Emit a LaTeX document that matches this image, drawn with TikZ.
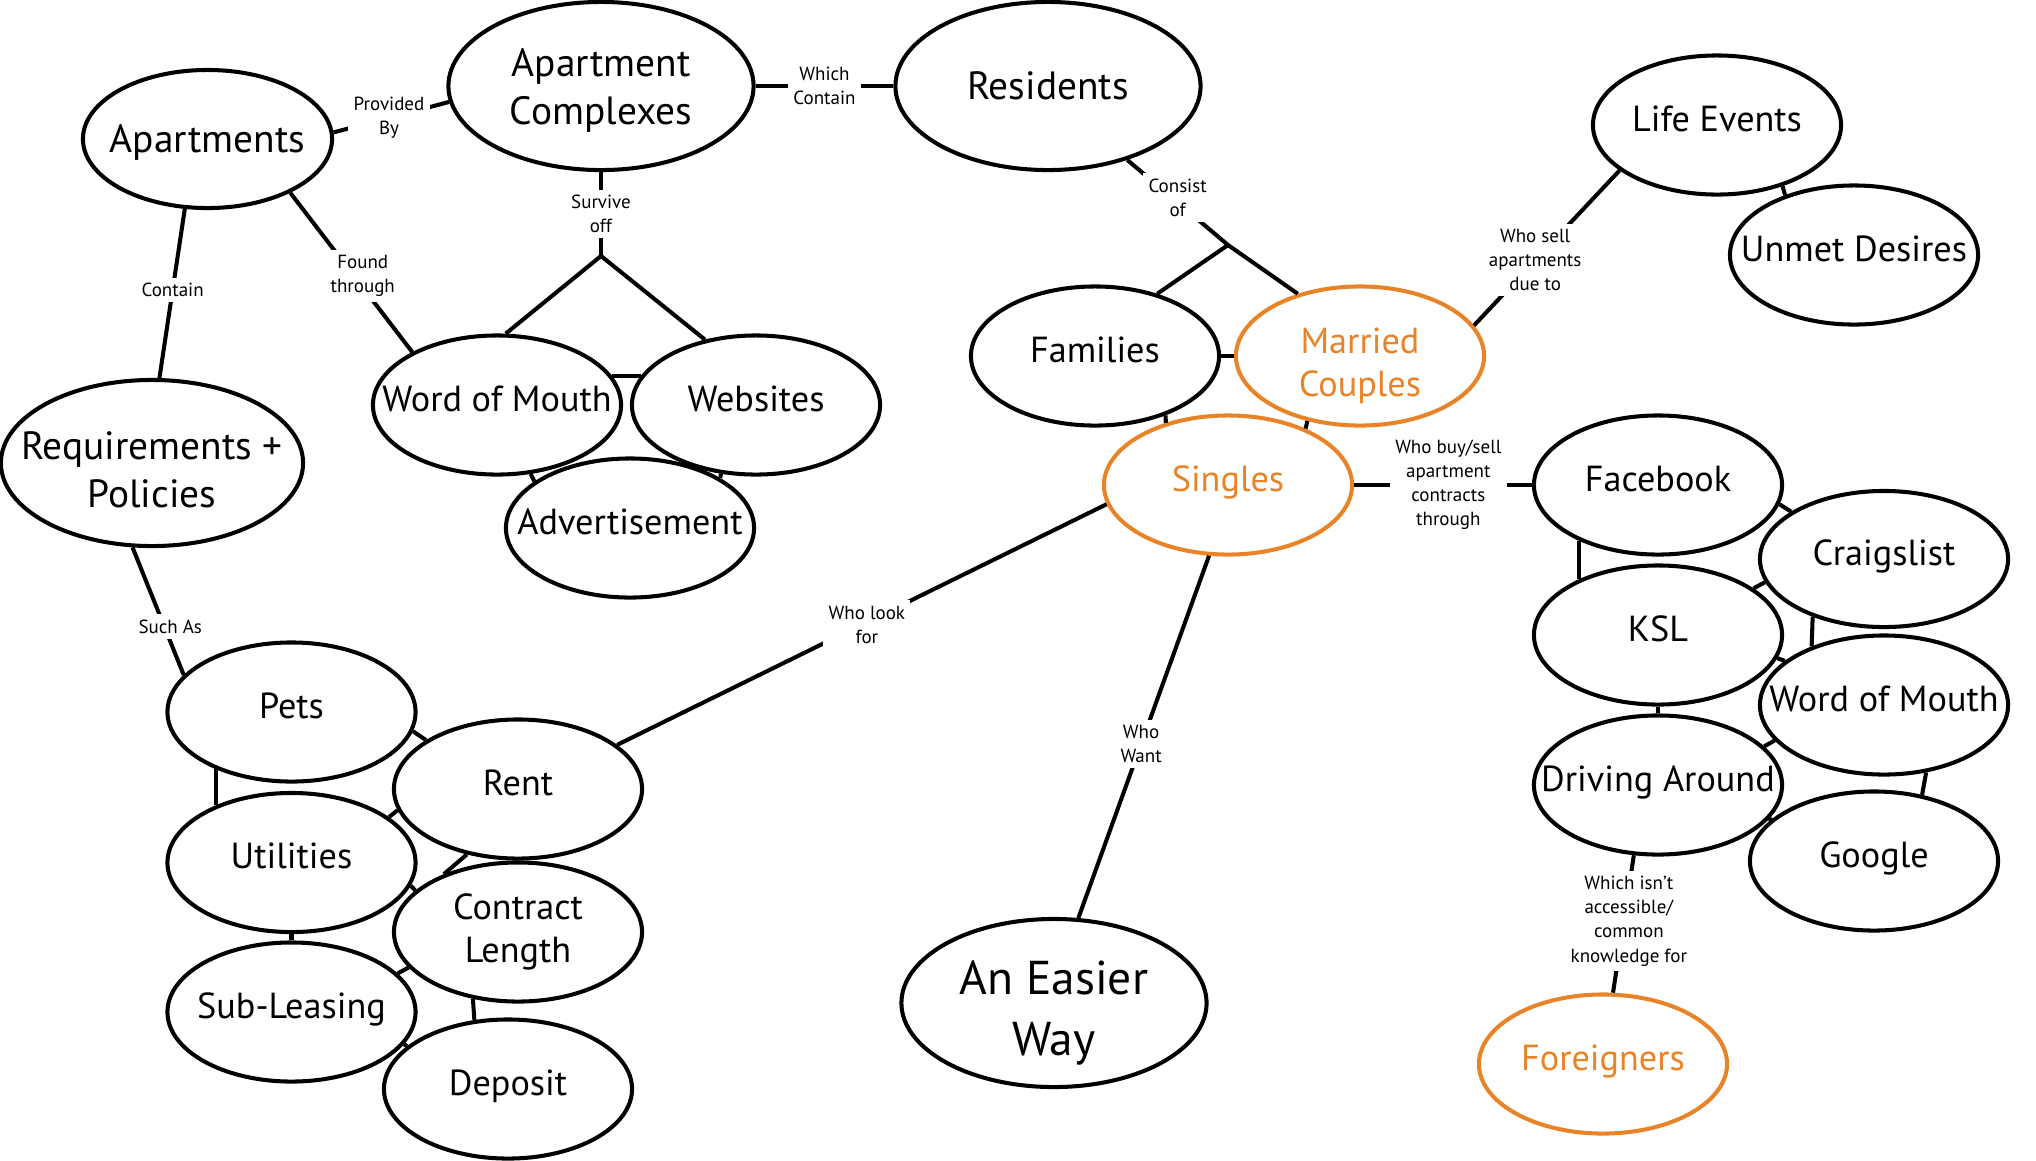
\documentclass[tikz,border=0pt]{standalone}
\usepackage{fontspec}
\setmainfont{PT Sans}
\usetikzlibrary{shapes.geometric}
\definecolor{orng}{RGB}{232,131,40}
\begin{document}
\begin{tikzpicture}[x=0.01cm, y=-0.01cm, line width=1.15pt, line join=round,
	base/.style={ellipse, draw, line width=1.15pt, minimum width=2.48cm, minimum height=1.39cm, inner sep=-10pt, align=center, font=\fontsize{10.3}{12.4}\selectfont},
	bub/.style={base, text height=7.5pt, text depth=4pt},
	bigbub/.style={base, minimum width=3.05cm, minimum height=1.68cm, font=\fontsize{11.2}{13.6}\selectfont},
	bigone/.style={bigbub, text height=8pt, text depth=0.6pt},
	hot/.style={draw=orng, text=orng},
	lbl/.style={fill=white, inner sep=1.5pt, align=center, font=\fontsize{5.4}{6.85}\selectfont}]
	\useasboundingbox (0,0) rectangle (2036,1160);
	\node[base, minimum width=2.49cm, minimum height=1.38cm, font=\fontsize{11.2}{13.6}\selectfont, text height=8pt, text depth=0.6pt] (apts) at (207.5,139) {Apartments};
	\node[bigbub] (cplx) at (601,86) {\rule{0pt}{10.4pt}Apartment\\Complexes};
	\node[bigone] (res) at (1048,86) {Residents};
	\node[bigbub, minimum width=3.02cm, minimum height=1.66cm] (req) at (152,463) {\rule{0pt}{11.8pt}Requirements +\\Policies};
	\node[bub] (wom) at (497,405) {Word of Mouth};
	\node[bub] (web) at (756,405) {Websites};
	\node[bub] (adv) at (630,528) {Advertisement};
	\node[bub] (life) at (1717,125) {Life Events};
	\node[bub] (unmet) at (1854,255) {Unmet Desires};
	\node[bub] (fam) at (1095,356) {Families};
	\node[base, hot] (married) at (1360,356) {\rule{0pt}{12.9pt}Married\\Couples};
	\node[bub, hot] (singles) at (1228,485) {Singles};
	\node[bub] (fb) at (1658,485) {Facebook};
	\node[bub, minimum height=1.36cm] (craig) at (1884,559) {Craigslist};
	\node[bub] (ksl) at (1658,635) {KSL};
	\node[bub] (wom2) at (1884,705) {Word of Mouth};
	\node[bub] (drive) at (1658,785) {Driving Around};
	\node[bub] (google) at (1874,861) {Google};
	\node[bub, hot] (foreign) at (1603,1064) {Foreigners};
	\node[bigbub, font=\fontsize{13.5}{17.4}\selectfont] (easier) at (1054,1003) {\rule{0pt}{15.3pt}An Easier\\Way};
	\node[bub] (pets) at (291.5,712) {Pets};
	\node[bub] (rent) at (518,789) {Rent};
	\node[bub] (util) at (291.5,862.5) {Utilities};
	\node[base] (contract) at (518,932) {Contract\\Length};
	\node[bub] (sub) at (291.5,1012) {Sub-Leasing};
	\node[bub] (deposit) at (508,1089) {Deposit};
	\coordinate (surv) at (601,256);
	\coordinate (cons) at (1228,245);
	\draw (apts.3) -- node[lbl, pos=.48] {Provided\\By} (cplx.-174);
	\draw (cplx) -- node[lbl] {Which\\Contain} (res);
	\draw (apts.-108) -- node[lbl, pos=.48] {Contain} (req.85);
	\draw (apts.-33) -- node[lbl, pos=.52, xshift=0.09cm] {Found\\through} (wom.148);
	\draw (cplx.south) -- node[lbl] {Survive\\off} (surv);
	\draw (wom.83) -- (surv) -- (web.128);
	\draw (wom.14) -- (web.166);
	\draw (wom.-64) -- (adv.154);
	\draw (web.-117) -- (adv.29);
	\draw (res.-43) -- node[lbl, yshift=0.05cm] {Consist\\of} (cons);
	\draw (fam.45) -- (cons) -- (married.135);
	\draw (fam) -- (married);
	\draw (fam.-40) -- (singles.135);
	\draw (married.-129) -- (singles.36);
	\draw (married.15) -- node[lbl, pos=.42] {Who sell\\apartments\\due to} (life.205);
	\draw (life.-43) -- (unmet.139);
	\draw (singles) -- node[lbl, pos=.53] {Who buy/sell\\apartment\\contracts\\through} (fb);
	\draw (fb.-9) -- (craig.153);
	\draw (fb.-145) -- (ksl.145);
	\draw (craig.191) -- (ksl.26);
	\draw (craig.-141) -- (wom2.141);
	\draw (ksl.-11) -- (wom2.156);
	\draw (ksl) -- (drive);
	\draw (wom2.198) -- (drive.20);
	\draw (wom2.-58) -- (google.54);
	\draw (drive.-16) -- (google.159);
	\draw (drive.-109) -- node[lbl, pos=.48, xshift=0.05cm] {Which isn't\\accessible/\\common\\knowledge for} (foreign.82);
	\draw (singles.-171) -- node[lbl, xshift=0.05cm] {Who look\\for} (rent.24);
	\draw (singles.-105) -- node[lbl, pos=.52] {Who\\Want} (easier.74);
	\draw (req.-103) -- node[lbl, pos=.62, xshift=0.06cm] {Such As} (pets.161);
	\draw (pets.-9) -- (rent.152);
	\draw (pets.-143) -- (util.143);
	\draw (util.25) -- (rent.190);
	\draw (rent.-128) -- (contract.142);
	\draw (util.-11) -- (contract.158);
	\draw (util) -- (sub);
	\draw (sub.20) -- (contract.198);
	\draw (contract.-124) -- (deposit.116);
	\draw (sub.-16) -- (deposit.157);
\end{tikzpicture}
\end{document}
